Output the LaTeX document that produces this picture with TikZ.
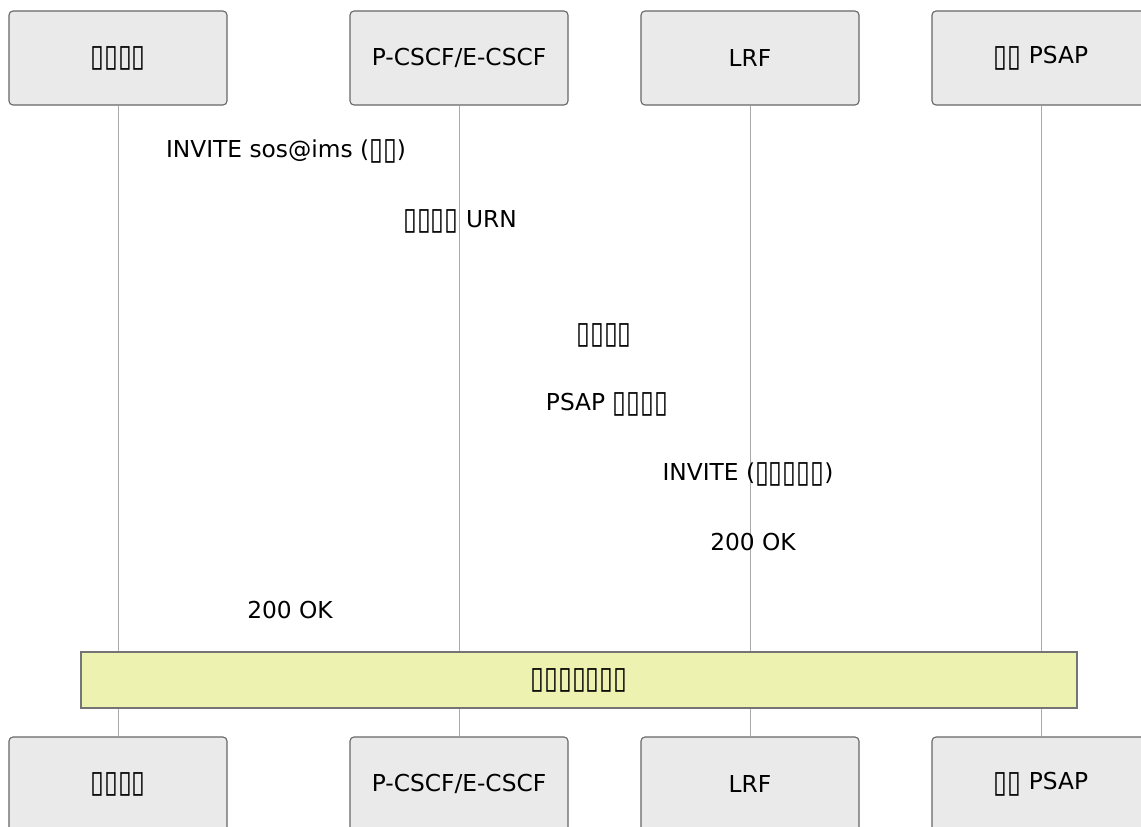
\documentclass[tikz,border=0pt]{standalone}
\usepackage{fontspec}
\setmainfont{DejaVu Sans}
\usetikzlibrary{positioning}

\definecolor{boxfill}{HTML}{EAEAEA}
\definecolor{boxline}{HTML}{666666}
\definecolor{lifeline}{HTML}{AAAAAA}
\definecolor{notefill}{HTML}{EEF2B0}

% missing-glyph box as the reference prints it
\newcommand{\tofu}{\raisebox{-2.8pt}{\scalebox{1.08}[1.33]{▯}}}

\begin{document}
\begin{tikzpicture}[x=1pt, y=-1pt, on grid, node distance=291pt,
    actor/.style={draw=boxline, line width=1.1pt, fill=boxfill, rounded corners=4pt,
        minimum width=218pt, minimum height=94pt, inner sep=0pt,
        font=\fontsize{23.3}{28}\selectfont},
    life/.style={draw=lifeline, line width=1pt},
    msg/.style={anchor=base, inner sep=0pt, font=\fontsize{23.3}{28}\selectfont},
    note/.style={draw=boxline!90, line width=1.1pt, fill=notefill, minimum width=996pt,
        minimum height=56pt, inner sep=0pt, font=\fontsize{23.3}{28}\selectfont}]
    \useasboundingbox (0,0) rectangle (1141,827);

    % participants, top row
    \node[actor] (ue) at (118,58) {\tofu\tofu\tofu\tofu};
    \node[actor] (cscf) [right=341pt of ue] {P-CSCF/E-CSCF};
    \node[actor] (lrf) [right=of cscf] {LRF};
    \node[actor] (psap) [right=of lrf] {\tofu\tofu{} PSAP};

    % participants, bottom row
    \node[actor] (ueb) at (118,784) {\tofu\tofu\tofu\tofu};
    \node[actor] (cscfb) [right=341pt of ueb] {P-CSCF/E-CSCF};
    \node[actor] (lrfb) [right=of cscfb] {LRF};
    \node[actor] (psapb) [right=of lrfb] {\tofu\tofu{} PSAP};

    % lifelines
    \draw[life] (ue) -- (ueb);
    \draw[life] (cscf) -- (cscfb);
    \draw[life] (lrf) -- (lrfb);
    \draw[life] (psap) -- (psapb);

    % messages
    \node[msg] (m1) at (286,157) {INVITE sos@ims (\tofu\tofu)};
    \node[msg] (m2) at (460,227) {\tofu\tofu\tofu\tofu{} URN};
    \node[msg] (m3) at (604,341) {\tofu\tofu\tofu\tofu};
    \node[msg] (m4) at (607,410) {PSAP \tofu\tofu\tofu\tofu};
    \node[msg] (m5) at (748,480) {INVITE (\tofu\tofu\tofu\tofu\tofu)};
    \node[msg] (m6) at (753,550) {200 OK};
    \node[msg] (m7) at (290,618) {200 OK};

    \node[note] (call) at (579,680) {\tofu\tofu\tofu\tofu\tofu\tofu\tofu};
\end{tikzpicture}
\end{document}
